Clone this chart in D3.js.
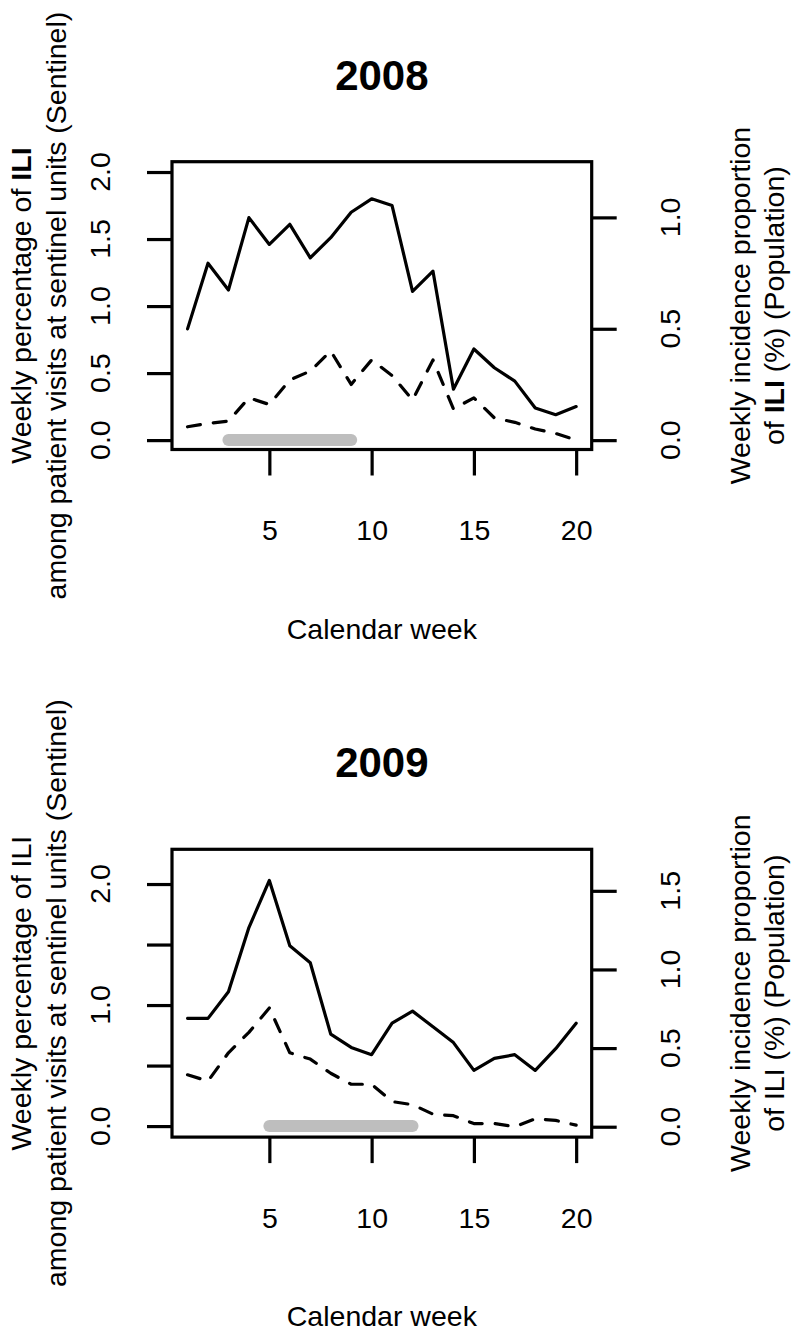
<!DOCTYPE html>
<html>
<head>
<meta charset="utf-8">
<script src="https://cdn.jsdelivr.net/npm/d3@7"></script>
<style>
  html, body { margin: 0; padding: 0; background: #fff; }
  svg { display: block; }
  text { font-family: "Liberation Sans", Arial, sans-serif; fill: #000; }
</style>
</head>
<body>
<script>
// ---------------- data ----------------
const weeks = [1, 2, 3, 4, 5, 6, 7, 8, 9, 10, 11, 12, 13, 14, 15, 16, 17, 18, 19, 20];

const sentinel2008   = [0.83, 1.32, 1.12, 1.66, 1.46, 1.61, 1.36, 1.51, 1.70, 1.80, 1.75, 1.11, 1.26, 0.38, 0.68, 0.54, 0.44, 0.24, 0.19, 0.25];
const population2008 = [0.06, 0.075, 0.085, 0.19, 0.16, 0.27, 0.31, 0.40, 0.25, 0.36, 0.29, 0.18, 0.36, 0.14, 0.19, 0.10, 0.08, 0.05, 0.03, 0.00];

const sentinel2009   = [0.89, 0.89, 1.11, 1.64, 2.03, 1.49, 1.35, 0.76, 0.65, 0.59, 0.85, 0.95, 0.82, 0.69, 0.46, 0.56, 0.59, 0.46, 0.64, 0.85];
const population2009 = [0.33, 0.29, 0.47, 0.60, 0.755, 0.47, 0.43, 0.34, 0.27, 0.27, 0.16, 0.14, 0.08, 0.07, 0.02, 0.02, 0.00, 0.05, 0.04, 0.01];

const epidemic2008 = [3, 9];
const epidemic2009 = [5, 12];

const xTicks = [5, 10, 15, 20];
const xTickLabels = ["5", "10", "15", "20"];

const leftTicks2008  = [0, 0.5, 1, 1.5, 2];
const leftLabels2008 = ["0.0", "0.5", "1.0", "1.5", "2.0"];
const rightTicks2008  = [0, 0.5, 1];
const rightLabels2008 = ["0.0", "0.5", "1.0"];

const leftTicks2009  = [0, 0.5, 1, 1.5, 2];
const leftLabels2009 = ["0.0", "", "1.0", "", "2.0"];
const rightTicks2009  = [0, 0.5, 1, 1.5];
const rightLabels2009 = ["0.0", "0.5", "1.0", "1.5"];

const xLabel = "Calendar week";
const leftTitle1 = "Weekly percentage of ";
const leftTitle2 = "among patient visits at sentinel units (Sentinel)";
const rightTitle1 = "Weekly incidence proportion";
const rightTitle2a = "of ";
const rightTitle2b = " (%) (Population)";
const iliWord = "ILI";

// ---------------- drawing ----------------
const W = 794, H = 1335;
const FS = 28.5;
const LW = 3.2;
const svg = d3.select("body").append("svg")
  .attr("width", W).attr("height", H)
  .attr("viewBox", `0 0 ${W} ${H}`);
svg.append("rect").attr("width", W).attr("height", H).attr("fill", "#fff");

const boxL = 172, boxR = 591.7, boxH = 287.8;
const x = d3.scaleLinear().domain([0.24, 20.76]).range([boxL, boxR]);

function panel(o) {
  const top = o.top, bottom = top + boxH;
  const yL = d3.scaleLinear().domain(o.leftDomain).range([bottom, top]);
  const yR = d3.scaleLinear().domain(o.rightDomain).range([bottom, top]);
  const g = svg.append("g");

  // epidemic period bar
  g.append("line")
    .attr("x1", x(o.epidemic[0])).attr("x2", x(o.epidemic[1]))
    .attr("y1", yL(0)).attr("y2", yL(0))
    .attr("stroke", "#bebebe").attr("stroke-width", 12)
    .attr("stroke-linecap", "round");

  // population (dashed, right axis)
  g.append("path")
    .datum(weeks.map((w, i) => [w, o.population[i]]))
    .attr("fill", "none").attr("stroke", "#000").attr("stroke-width", LW)
    .attr("stroke-dasharray", "13,13").attr("stroke-linecap", "round")
    .attr("stroke-linejoin", "round")
    .attr("d", d3.line().x(d => x(d[0])).y(d => yR(d[1])));

  // sentinel (solid, left axis)
  g.append("path")
    .datum(weeks.map((w, i) => [w, o.sentinel[i]]))
    .attr("fill", "none").attr("stroke", "#000").attr("stroke-width", LW)
    .attr("stroke-linejoin", "round").attr("stroke-linecap", "round")
    .attr("d", d3.line().x(d => x(d[0])).y(d => yL(d[1])));

  // box
  g.append("rect")
    .attr("x", boxL).attr("y", top).attr("width", boxR - boxL).attr("height", boxH)
    .attr("fill", "none").attr("stroke", "#000").attr("stroke-width", LW);

  // x axis
  const xa = g.append("g").attr("transform", `translate(0,${bottom})`)
    .call(d3.axisBottom(x).tickValues(xTicks).tickSize(26).tickSizeOuter(0)
      .tickPadding(44.7).tickFormat((d, i) => xTickLabels[i]));
  xa.select(".domain").remove();
  xa.selectAll(".tick line").attr("stroke", "#000").attr("stroke-width", LW);
  xa.selectAll(".tick text").attr("font-size", FS)
    .attr("font-family", '"Liberation Sans", Arial, sans-serif').attr("fill", "#000");

  // left axis
  const la = g.append("g").attr("transform", `translate(${boxL},0)`)
    .call(d3.axisLeft(yL).tickValues(o.leftTicks).tickSize(25).tickSizeOuter(0).tickFormat(""));
  la.select(".domain").remove();
  la.selectAll(".tick line").attr("stroke", "#000").attr("stroke-width", LW);
  la.selectAll(".tick text").remove();
  g.selectAll(null).data(o.leftTicks).enter().append("text")
    .attr("transform", d => `translate(110,${yL(d)}) rotate(-90)`)
    .attr("text-anchor", "middle").attr("font-size", FS)
    .text((d, i) => o.leftLabels[i]);

  // right axis
  const ra = g.append("g").attr("transform", `translate(${boxR},0)`)
    .call(d3.axisRight(yR).tickValues(o.rightTicks).tickSize(25).tickSizeOuter(0).tickFormat(""));
  ra.select(".domain").remove();
  ra.selectAll(".tick line").attr("stroke", "#000").attr("stroke-width", LW);
  ra.selectAll(".tick text").remove();
  g.selectAll(null).data(o.rightTicks).enter().append("text")
    .attr("transform", d => `translate(680,${yR(d)}) rotate(-90)`)
    .attr("text-anchor", "middle").attr("font-size", FS)
    .text((d, i) => o.rightLabels[i]);

  const cy = (top + bottom) / 2;
  const iliWeight = o.boldILI ? "bold" : "normal";

  // left title (two lines)
  const lt1 = g.append("text").attr("transform", `translate(31,${cy}) rotate(-90)`)
    .attr("text-anchor", "middle").attr("font-size", FS);
  lt1.append("tspan").text(leftTitle1);
  lt1.append("tspan").attr("font-weight", iliWeight).text(iliWord);
  g.append("text").attr("transform", `translate(66,${cy}) rotate(-90)`)
    .attr("text-anchor", "middle").attr("font-size", FS).text(leftTitle2);

  // right title (two lines)
  g.append("text").attr("transform", `translate(750,${cy}) rotate(-90)`)
    .attr("text-anchor", "middle").attr("font-size", FS).text(rightTitle1);
  const rt2 = g.append("text").attr("transform", `translate(784,${cy}) rotate(-90)`)
    .attr("text-anchor", "middle").attr("font-size", FS);
  rt2.append("tspan").text(rightTitle2a);
  rt2.append("tspan").attr("font-weight", iliWeight).text(iliWord);
  rt2.append("tspan").text(rightTitle2b);

  // x label
  g.append("text").attr("x", (boxL + boxR) / 2).attr("y", bottom + 189)
    .attr("text-anchor", "middle").attr("font-size", FS).text(xLabel);

  // title
  g.append("text").attr("x", (boxL + boxR) / 2).attr("y", top - 72)
    .attr("text-anchor", "middle").attr("font-size", 42).attr("font-weight", "bold")
    .text(o.title);
}

panel({
  top: 161.7, title: "2008",
  sentinel: sentinel2008, population: population2008, epidemic: epidemic2008,
  leftDomain: [-0.07, 2.077], rightDomain: [-0.042, 1.25],
  leftTicks: leftTicks2008, leftLabels: leftLabels2008,
  rightTicks: rightTicks2008, rightLabels: rightLabels2008,
  boldILI: true
});

panel({
  top: 849.3, title: "2009",
  sentinel: sentinel2009, population: population2009, epidemic: epidemic2009,
  leftDomain: [-0.091, 2.287], rightDomain: [-0.066, 1.764],
  leftTicks: leftTicks2009, leftLabels: leftLabels2009,
  rightTicks: rightTicks2009, rightLabels: rightLabels2009,
  boldILI: false
});
</script>
</body>
</html>
